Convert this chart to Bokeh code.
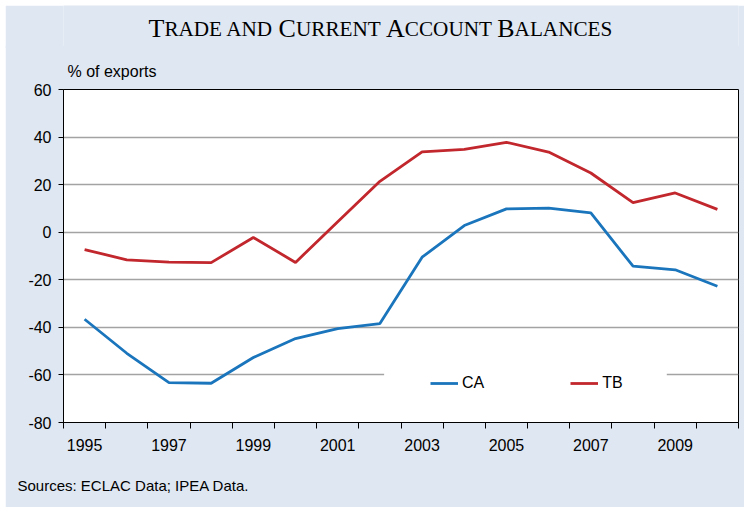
from bokeh.plotting import figure
from bokeh.layouts import column
from bokeh.models import (FixedTicker, Legend, LegendItem, BoxAnnotation, Range1d,
                          ColumnDataSource, Title)
from bokeh.core.properties import value
from bokeh.embed import file_html
from bokeh.resources import INLINE

# ---- data ----
years = list(range(1995, 2011))
ca = [-36.6, -50.9, -63.2, -63.5, -52.7, -44.7, -40.5, -38.4,
      -10.5, 2.8, 9.8, 10.1, 8.1, -14.3, -15.8, -22.7]
tb = [-7.3, -11.6, -12.6, -12.8, -2.2, -12.7, 4.4, 21.4,
      33.8, 34.8, 37.8, 33.7, 24.9, 12.4, 16.5, 9.6]
y_ticks = [-80, -60, -40, -20, 0, 20, 40, 60]
x_label_years = [1995, 1997, 1999, 2001, 2003, 2005, 2007, 2009]
title_text = "Trade and Current Account Balances"
unit_text = "% of exports"
source_text = "Sources: ECLAC Data; IPEA Data."
series_names = ["CA", "TB"]

# ---- style / layout ----
BG = "#DFE7F2"
BLUE = "#1A75BC"
RED = "#C1272D"
SANS = "Liberation Sans"
SERIF = "Liberation Serif"
ML, MR, FW = 58, 6, 675          # left border, right border, frame width
OX, OY = 5, 5                    # page offset of the whole layout
HEAD_H = 43
OVERLAP = 3
TOP_B = 44                       # main figure border above the frame

# ---- header: small-caps title (coords in page pixels) ----
left_px = OX + ML
head = figure(width=ML + FW + MR, height=HEAD_H, output_backend="svg",
              toolbar_location=None,
              x_range=Range1d(left_px, left_px + FW),
              y_range=Range1d(OY + HEAD_H, OY),
              x_axis_type=None, y_axis_type=None,
              min_border_left=ML, min_border_right=MR,
              min_border_top=0, min_border_bottom=0,
              frame_width=FW, frame_height=HEAD_H)
head.background_fill_color = BG
head.border_fill_color = BG
head.outline_line_color = None
head.xgrid.visible = False
head.ygrid.visible = False

widths = {"A": 722, "B": 667, "C": 667, "D": 722, "E": 611, "L": 611, "N": 722,
          "O": 722, "R": 667, "S": 556, "T": 611, "U": 722, " ": 250}
BIG, SMALL = 26, 21.2
runs = []
for ch in title_text:
    big = ch.isupper()
    if runs and runs[-1][0] == big:
        runs[-1][1] += ch.upper()
    else:
        runs.append([big, ch.upper()])
tx, tt, ts = [], [], []
cx = 148.0
for big, txt in runs:
    size = BIG if big else SMALL
    if txt.strip():
        tx.append(cx)
        tt.append(txt.rstrip())
        ts.append(f"{size}px")
    cx += sum(widths[c] for c in txt) * size / 1000.0
head.text(x="x", y="y", text="text", text_font_size="size",
          source=ColumnDataSource(dict(x=tx, y=[28] * len(tx), text=tt, size=ts)),
          text_font=value(SERIF), text_color="black", text_baseline="alphabetic",
          text_align="left")

# ---- main chart ----
p = figure(width=ML + FW + MR, height=TOP_B + 333 + 76, output_backend="svg",
           toolbar_location=None,
           x_range=Range1d(years[0] - 0.5, years[-1] + 0.5),
           y_range=Range1d(y_ticks[0], y_ticks[-1]),
           frame_width=FW, frame_height=333,
           min_border_left=ML, min_border_right=MR,
           min_border_top=TOP_B, min_border_bottom=76,
           margin=(-OVERLAP, 0, 0, 0))
p.background_fill_color = "white"
p.border_fill_color = BG
p.outline_line_color = "black"
p.outline_line_width = 1

xa = p.xaxis[0]
xa.ticker = FixedTicker(ticks=x_label_years,
                        minor_ticks=[y - 0.5 for y in years] + [years[-1] + 0.5])
xa.major_tick_line_color = None
xa.major_tick_out = 0
xa.major_tick_in = 0
xa.minor_tick_line_color = "black"
xa.minor_tick_out = 6
xa.minor_tick_in = 0
xa.major_label_standoff = 10

ya = p.yaxis[0]
ya.ticker = FixedTicker(ticks=y_ticks)
ya.major_label_overrides = {t: str(t) for t in y_ticks}
ya.minor_tick_line_color = None
ya.major_tick_line_color = "black"
ya.major_tick_out = 5
ya.major_tick_in = 0
ya.major_label_standoff = 7

for ax in (xa, ya):
    ax.axis_line_color = "black"
    ax.major_label_text_font = SANS
    ax.major_label_text_font_size = "16px"
    ax.major_label_text_color = "black"

p.xgrid.grid_line_color = None
p.ygrid.ticker = FixedTicker(ticks=y_ticks)
p.ygrid.grid_line_color = "#A3A3A3"
p.ygrid.grid_line_width = 1.5

r_ca = p.line(years, ca, line_color=BLUE, line_width=2.8)
r_tb = p.line(years, tb, line_color=RED, line_width=2.8)

# white gap in the gridline behind the legend
p.add_layout(BoxAnnotation(left=2002.1, right=2008.8, bottom=-62, top=-58,
                           fill_color="white", fill_alpha=1, line_color=None))

legend = Legend(items=[LegendItem(label=series_names[0], renderers=[r_ca]),
                       LegendItem(label=series_names[1], renderers=[r_tb])],
                orientation="horizontal", location=(367, 29),
                padding=6, spacing=86, glyph_width=28, label_standoff=4,
                label_text_font=SANS, label_text_font_size="16px",
                label_text_color="black",
                border_line_color=None, background_fill_color="white",
                background_fill_alpha=1, margin=0)
p.add_layout(legend, "center")

# unit label above the frame, sources note below the axis
p.add_layout(Title(text=unit_text, align="left", offset=4, standoff=20,
                   text_font=SANS, text_font_size="16px", text_font_style="normal",
                   text_color="black"), "above")
p.add_layout(Title(text=source_text, align="left", offset=-46, standoff=42,
                   text_font=SANS, text_font_size="15px", text_font_style="normal",
                   text_color="black"), "below")

layout = column(head, p, spacing=0, margin=(OY, 0, 0, OX))
open("out.html", "w").write(file_html(layout, INLINE))
